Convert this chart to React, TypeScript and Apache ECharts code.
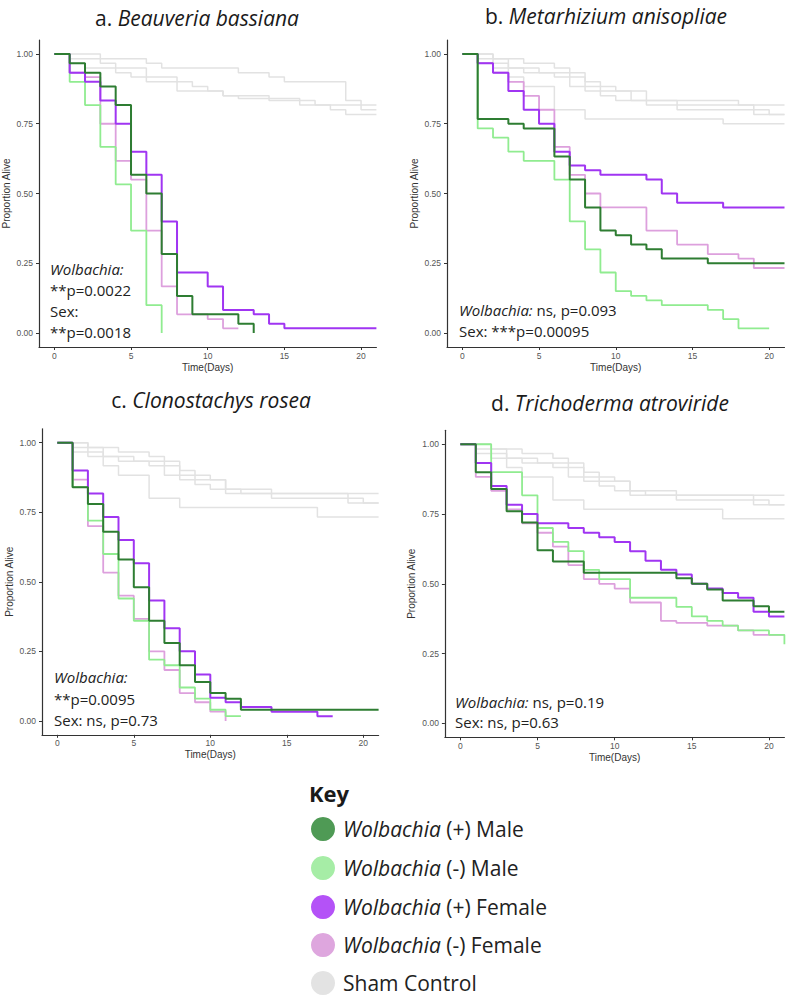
import React, { useEffect, useRef } from "react";
import * as echarts from "echarts";

// ---- tick values ----
const DAY_TICKS = [0, 5, 10, 15, 20];
const PROP_TICKS = [0, 0.25, 0.5, 0.75, 1];

// ---- a. Beauveria bassiana ----
const bbWolbPosMale = [[0, 1], [1, 0.967], [2, 0.933], [3, 0.883], [4, 0.817], [5, 0.567], [6, 0.5], [7, 0.283], [8, 0.133], [9, 0.067], [12, 0.033], [13, 0]];
const bbWolbNegMale = [[0, 1], [1, 0.9], [2, 0.817], [3, 0.667], [4, 0.533], [5, 0.367], [6, 0.1], [7, 0]];
const bbWolbPosFemale = [[0, 1], [1, 0.933], [2, 0.9], [3, 0.833], [4, 0.75], [5, 0.65], [6, 0.567], [7, 0.4], [8, 0.217], [10, 0.167], [11, 0.083], [13, 0.067], [14, 0.033], [15, 0.017], [21, 0.017]];
const bbWolbNegFemale = [[0, 1], [1, 0.933], [2, 0.917], [3, 0.75], [4, 0.617], [5, 0.55], [6, 0.367], [7, 0.167], [8, 0.067], [10, 0.05], [11, 0.017], [12, 0.017]];
const bbSham1 = [[0, 1], [3, 0.983], [6, 0.967], [7, 0.95], [12, 0.933], [14, 0.917], [15, 0.9], [19, 0.833], [20, 0.817], [21, 0.817]];
const bbSham2 = [[0, 1], [1, 0.983], [3, 0.967], [4, 0.95], [6, 0.917], [8, 0.9], [9, 0.883], [10, 0.867], [11, 0.85], [14, 0.833], [17, 0.817], [20, 0.8], [21, 0.8]];
const bbSham3 = [[0, 1], [1, 0.967], [2, 0.95], [4, 0.933], [5, 0.917], [6, 0.9], [8, 0.867], [11, 0.85], [12, 0.84], [16, 0.817], [18, 0.8], [19, 0.783], [21, 0.783]];

// ---- b. Metarhizium anisopliae ----
const maWolbPosMale = [[0, 1], [1, 0.767], [3, 0.75], [4, 0.733], [6, 0.633], [7, 0.55], [8, 0.45], [9, 0.367], [10, 0.35], [11, 0.317], [12, 0.3], [13, 0.267], [16, 0.25], [21, 0.25]];
const maWolbNegMale = [[0, 1], [1, 0.733], [2, 0.7], [3, 0.65], [4, 0.617], [6, 0.55], [7, 0.4], [8, 0.3], [9, 0.217], [10, 0.15], [11, 0.133], [12, 0.117], [13, 0.1], [16, 0.083], [17, 0.05], [18, 0.017], [20, 0.017]];
const maWolbPosFemale = [[0, 1], [1, 0.967], [2, 0.933], [3, 0.867], [4, 0.8], [5, 0.75], [6, 0.65], [7, 0.6], [8, 0.583], [9, 0.567], [12, 0.55], [13, 0.5], [14, 0.467], [17, 0.45], [21, 0.45]];
const maWolbNegFemale = [[0, 1], [1, 0.967], [2, 0.933], [3, 0.9], [4, 0.85], [5, 0.8], [6, 0.667], [7, 0.567], [8, 0.5], [9, 0.45], [12, 0.367], [14, 0.317], [16, 0.283], [18, 0.267], [19, 0.233], [21, 0.233]];
const maSham1 = [[0, 1], [2, 0.983], [4, 0.967], [6, 0.95], [7, 0.933], [8, 0.9], [9, 0.883], [10, 0.867], [12, 0.817], [21, 0.817]];
const maSham2 = [[0, 1], [1, 0.983], [3, 0.95], [4, 0.933], [6, 0.917], [7, 0.883], [8, 0.867], [9, 0.85], [10, 0.833], [14, 0.8], [19, 0.783], [21, 0.783]];
const maSham3 = [[0, 1], [1, 0.967], [2, 0.95], [3, 0.917], [4, 0.883], [6, 0.8], [8, 0.767], [17, 0.75], [21, 0.75]];
const maSham4 = [[0, 1], [2, 0.967], [3, 0.95], [5, 0.933], [7, 0.917], [8, 0.883], [9, 0.867], [11, 0.833], [18, 0.817], [19, 0.8], [20, 0.783], [21, 0.783]];

// ---- c. Clonostachys rosea ----
const crWolbPosMale = [[0, 1], [1, 0.84], [2, 0.78], [3, 0.68], [4, 0.58], [5, 0.48], [6, 0.36], [7, 0.28], [8, 0.2], [9, 0.14], [10, 0.1], [11, 0.08], [12, 0.04], [21, 0.04]];
const crWolbNegMale = [[0, 1], [1, 0.84], [2, 0.72], [3, 0.6], [4, 0.44], [5, 0.36], [6, 0.22], [7, 0.2], [8, 0.12], [9, 0.08], [10, 0.04], [11, 0.017], [12, 0.017]];
const crWolbPosFemale = [[0, 1], [1, 0.9], [2, 0.817], [3, 0.733], [4, 0.65], [5, 0.567], [6, 0.433], [7, 0.333], [8, 0.25], [9, 0.167], [10, 0.083], [11, 0.067], [12, 0.05], [14, 0.033], [17, 0.017], [18, 0.017]];
const crWolbNegFemale = [[0, 1], [1, 0.867], [2, 0.7], [3, 0.533], [4, 0.45], [5, 0.367], [6, 0.25], [7, 0.183], [8, 0.1], [9, 0.067], [10, 0.033], [11, 0]];

// ---- d. Trichoderma atroviride ----
const taWolbPosMale = [[0, 1], [1, 0.9], [2, 0.84], [3, 0.76], [4, 0.72], [5, 0.62], [6, 0.58], [8, 0.54], [14, 0.52], [15, 0.5], [16, 0.48], [17, 0.44], [19, 0.42], [20, 0.4], [21, 0.4]];
const taWolbNegMale = [[0, 1], [2, 0.9], [4, 0.817], [5, 0.7], [6, 0.65], [7, 0.617], [8, 0.55], [9, 0.517], [11, 0.45], [14, 0.417], [15, 0.383], [16, 0.367], [17, 0.35], [18, 0.333], [20, 0.317], [21, 0.283]];
const taWolbPosFemale = [[0, 1], [1, 0.933], [2, 0.85], [3, 0.783], [4, 0.75], [5, 0.717], [7, 0.7], [8, 0.683], [9, 0.667], [10, 0.65], [11, 0.617], [12, 0.583], [13, 0.55], [14, 0.533], [15, 0.5], [16, 0.483], [17, 0.467], [18, 0.45], [19, 0.4], [20, 0.383], [21, 0.383]];
const taWolbNegFemale = [[0, 1], [1, 0.883], [2, 0.833], [3, 0.767], [4, 0.717], [5, 0.683], [6, 0.633], [7, 0.567], [8, 0.517], [9, 0.5], [10, 0.483], [11, 0.433], [13, 0.367], [14, 0.36], [16, 0.35], [18, 0.333], [19, 0.317], [21, 0.317]];

// shared sham controls (c, d)
const cdSham1 = [[0, 1], [2, 0.983], [4, 0.967], [6, 0.95], [7, 0.933], [8, 0.9], [9, 0.883], [10, 0.867], [11, 0.817], [21, 0.817]];
const cdSham2 = [[0, 1], [1, 0.983], [3, 0.95], [4, 0.933], [6, 0.917], [7, 0.883], [8, 0.867], [9, 0.85], [10, 0.833], [14, 0.8], [19, 0.783], [21, 0.783]];
const cdSham3 = [[0, 1], [1, 0.967], [2, 0.95], [3, 0.917], [4, 0.883], [6, 0.8], [8, 0.767], [17, 0.733], [21, 0.733]];
const cdSham4 = [[0, 1], [2, 0.967], [3, 0.95], [5, 0.933], [7, 0.917], [8, 0.883], [9, 0.867], [11, 0.833], [12, 0.817], [19, 0.8], [20, 0.783], [21, 0.783]];

// ---- text ----
const PANEL_LETTERS = ["a. ", "b. ", "c. ", "d. "];
const PANEL_SPECIES = ["Beauveria bassiana", "Metarhizium anisopliae", "Clonostachys rosea", "Trichoderma atroviride"];
const PANEL_NOTES = [
  ["{i|Wolbachia:}", "**p=0.0022", "Sex:", "**p=0.0018"],
  ["{i|Wolbachia:} ns, p=0.093", "Sex: ***p=0.00095"],
  ["{i|Wolbachia:}", "**p=0.0095", "Sex: ns, p=0.73"],
  ["{i|Wolbachia:} ns, p=0.19", "Sex: ns, p=0.63"],
];
const KEY_LABELS = ["{i|Wolbachia} (+) Male", "{i|Wolbachia} (-) Male", "{i|Wolbachia} (+) Female", "{i|Wolbachia} (-) Female", "Sham Control"];

// ---- styles ----
const LINE_COLORS = { wpm: "#2e7d32", wmm: "#90ec90", wpf: "#a035f2", wmf: "#dda0dd", sham: "#e2e2e2" };
const KEY_COLORS = ["#4f9a55", "#a6eda6", "#b452f7", "#dea6de", "#e3e3e3"];

const PANELS = [
  { grid: { left: 38.3, top: 40, width: 338.1, height: 307 }, sham: [bbSham1, bbSham2, bbSham3], wmf: bbWolbNegFemale, wmm: bbWolbNegMale, wpf: bbWolbPosFemale, wpm: bbWolbPosMale, title: [197, 18], notes: [50, 269, 21] },
  { grid: { left: 447, top: 40, width: 337.5, height: 307 }, sham: [maSham1, maSham2, maSham3, maSham4], wmf: maWolbNegFemale, wmm: maWolbNegMale, wpf: maWolbPosFemale, wpm: maWolbPosMale, title: [606, 16], notes: [459, 310, 21] },
  { grid: { left: 42, top: 428.8, width: 336.6, height: 306 }, sham: [cdSham1, cdSham2, cdSham3, cdSham4], wmf: crWolbNegFemale, wmm: crWolbNegMale, wpf: crWolbPosFemale, wpm: crWolbPosMale, title: [211, 400], notes: [54, 677, 21.5] },
  { grid: { left: 444.9, top: 430.3, width: 339.5, height: 307 }, sham: [cdSham1, cdSham2, cdSham3, cdSham4], wmf: taWolbNegFemale, wmm: taWolbNegMale, wpf: taWolbPosFemale, wpm: taWolbPosMale, title: [610, 403], notes: [455, 702, 20] },
];

const SANS = "'Open Sans', 'Noto Sans', sans-serif";
const AXIS_FONT = "'Liberation Sans', Arial, sans-serif";

function stepLine(data: number[][], idx: number, color: string, width: number, z: number) {
  return {
    type: "line",
    xAxisIndex: idx,
    yAxisIndex: idx,
    data,
    step: "end",
    symbol: "none",
    showSymbol: false,
    silent: true,
    z,
    lineStyle: { color, width },
    itemStyle: { color },
    emphasis: { disabled: true },
  };
}

function buildOption() {
  const grid = PANELS.map((p) => ({ ...p.grid, containLabel: false }));
  const xAxis = PANELS.map((_, i) => ({
    type: "value",
    gridIndex: i,
    min: -1,
    max: 21,
    axisLine: { show: true, onZero: false, lineStyle: { color: "#333", width: 1.2 } },
    axisTick: { show: true, length: 3, customValues: DAY_TICKS, lineStyle: { color: "#333" } },
    axisLabel: { customValues: DAY_TICKS, fontSize: 8.5, color: "#555", fontFamily: AXIS_FONT, margin: 4 },
    splitLine: { show: false },
    name: "Time(Days)",
    nameLocation: "middle",
    nameGap: 15,
    nameTextStyle: { fontSize: 10, color: "#333", fontFamily: AXIS_FONT },
  }));
  const yAxis = PANELS.map((_, i) => ({
    type: "value",
    gridIndex: i,
    min: -0.05,
    max: 1.05,
    axisLine: { show: true, onZero: false, lineStyle: { color: "#333", width: 1.2 } },
    axisTick: { show: true, length: 3, customValues: PROP_TICKS, lineStyle: { color: "#333" } },
    axisLabel: { customValues: PROP_TICKS, fontSize: 8.5, color: "#555", fontFamily: AXIS_FONT, margin: 6, formatter: (v: number) => v.toFixed(2) },
    splitLine: { show: false },
    name: "Proportion Alive",
    nameLocation: "middle",
    nameGap: 28,
    nameRotate: 90,
    nameTextStyle: { fontSize: 10, color: "#333", fontFamily: AXIS_FONT },
  }));

  const series: any[] = [];
  PANELS.forEach((p, i) => {
    p.sham.forEach((s) => series.push(stepLine(s, i, LINE_COLORS.sham, 1.5, 1)));
    series.push(stepLine(p.wmf, i, LINE_COLORS.wmf, 1.8, 2));
    series.push(stepLine(p.wmm, i, LINE_COLORS.wmm, 1.8, 3));
    series.push(stepLine(p.wpf, i, LINE_COLORS.wpf, 2, 4));
    series.push(stepLine(p.wpm, i, LINE_COLORS.wpm, 2, 5));
  });

  const italicRich = {
    i: { fontStyle: "italic", fontSize: 15, fontFamily: SANS, fill: "#222", color: "#222" },
  };

  const graphic: any[] = [];
  PANELS.forEach((p, i) => {
    graphic.push({
      type: "text",
      x: p.title[0],
      y: p.title[1],
      style: {
        text: `{n|${PANEL_LETTERS[i]}}{i|${PANEL_SPECIES[i]}}`,
        rich: {
          n: { fontSize: 21, fontFamily: SANS, fill: "#1a1a1a", color: "#1a1a1a" },
          i: { fontSize: 21, fontStyle: "italic", fontFamily: SANS, fill: "#1a1a1a", color: "#1a1a1a" },
        },
        textAlign: "center",
        align: "center",
        textVerticalAlign: "middle",
        verticalAlign: "middle",
      },
    });
    const [nx, ny, dy] = p.notes;
    PANEL_NOTES[i].forEach((line, k) => {
      graphic.push({
        type: "text",
        x: nx,
        y: ny + k * dy,
        style: {
          text: line,
          fontSize: 15,
          fontFamily: SANS,
          fill: "#222",
          rich: italicRich,
          textAlign: "left",
          align: "left",
          textVerticalAlign: "middle",
          verticalAlign: "middle",
        },
      });
    });
  });

  // Key
  graphic.push({
    type: "text",
    x: 309,
    y: 793,
    style: { text: "Key", fontSize: 22, fontWeight: "bold", fontFamily: SANS, fill: "#1a1a1a", textAlign: "left", align: "left", textVerticalAlign: "middle", verticalAlign: "middle" },
  });
  const keyRows = [829, 868, 907, 945, 983];
  KEY_LABELS.forEach((lab, k) => {
    graphic.push({ type: "circle", shape: { cx: 323, cy: keyRows[k], r: 12 }, style: { fill: KEY_COLORS[k] } });
    graphic.push({
      type: "text",
      x: 343,
      y: keyRows[k],
      style: {
        text: lab,
        fontSize: 21,
        fontFamily: SANS,
        fill: "#222",
        rich: { i: { fontStyle: "italic", fontSize: 21, fontFamily: SANS, fill: "#222", color: "#222" } },
        textAlign: "left",
        align: "left",
        textVerticalAlign: "middle",
        verticalAlign: "middle",
      },
    });
  });

  return { animation: false, backgroundColor: "#ffffff", grid, xAxis, yAxis, series, graphic };
}

export default function App() {
  const ref = useRef<HTMLDivElement>(null);
  useEffect(() => {
    if (!ref.current) return;
    const chart = echarts.init(ref.current, undefined, { renderer: "svg" });
    chart.setOption(buildOption() as any);
    return () => chart.dispose();
  }, []);
  return <div ref={ref} style={{ position: "absolute", left: 0, top: 0, width: 795, height: 1000, background: "#fff" }} />;
}
